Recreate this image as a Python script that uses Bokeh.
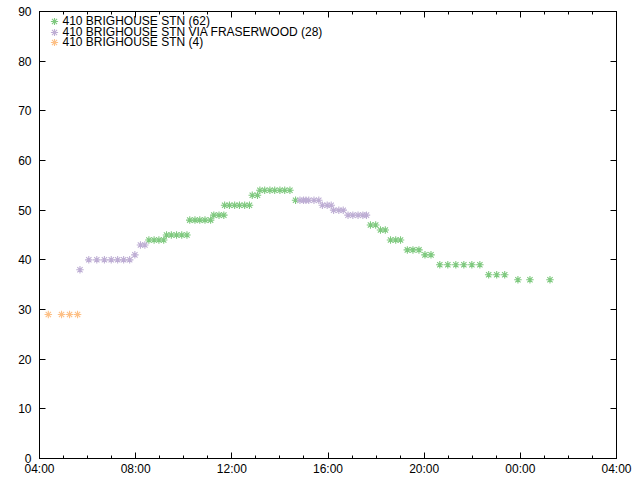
from datetime import datetime, timedelta
from bokeh.plotting import figure
from bokeh.models import (ColumnDataSource, DatetimeAxis, LinearAxis, FixedTicker,
                          DatetimeTickFormatter, Range1d, Legend, LegendItem,
                          CustomLabelingPolicy)
from bokeh.embed import file_html
from bokeh.resources import INLINE

# ---- data (time of day, value) ----
green_times = ["08:33", "08:46", "08:58", "09:10",
               "09:17", "09:29", "09:42", "09:55", "10:08",
               "10:15", "10:28", "10:40", "10:53", "11:07",
               "11:15", "11:28", "11:40",
               "11:42", "11:54", "12:07", "12:19", "12:32", "12:44",
               "12:51", "13:04",
               "13:10", "13:22", "13:35", "13:47", "14:00", "14:12", "14:25",
               "14:39",
               "17:46", "17:59",
               "18:11", "18:23",
               "18:36", "18:49", "19:01",
               "19:18", "19:32", "19:47",
               "20:02", "20:17",
               "20:39", "20:59", "21:19", "21:39", "21:59", "22:19",
               "22:41", "23:01", "23:21",
               "23:54", "00:24", "01:14"]
green_values = [44, 44, 44, 44,
                45, 45, 45, 45, 45,
                48, 48, 48, 48, 48,
                49, 49, 49,
                51, 51, 51, 51, 51, 51,
                53, 53,
                54, 54, 54, 54, 54, 54, 54,
                52,
                47, 47,
                46, 46,
                44, 44, 44,
                42, 42, 42,
                41, 41,
                39, 39, 39, 39, 39, 39,
                37, 37, 37,
                36, 36, 36]

purple_times = ["05:41",
                "06:03", "06:23", "06:42", "06:59", "07:15", "07:30", "07:45",
                "07:58",
                "08:12", "08:23",
                "14:50", "14:59", "15:05", "15:12", "15:25", "15:37",
                "15:46", "15:58", "16:08",
                "16:14", "16:27", "16:38",
                "16:50", "17:02", "17:15", "17:27", "17:36"]
purple_values = [38,
                 40, 40, 40, 40, 40, 40, 40,
                 41,
                 43, 43,
                 52, 52, 52, 52, 52, 52,
                 51, 51, 51,
                 50, 50, 50,
                 49, 49, 49, 49, 49]

orange_times = ["04:22", "04:55", "05:15", "05:35"]
orange_values = [29, 29, 29, 29]

series_labels = ["410 BRIGHOUSE STN (62)",
                 "410 BRIGHOUSE STN VIA FRASERWOOD (28)",
                 "410 BRIGHOUSE STN (4)"]
series_colors = ["#7fc97f", "#beaed4", "#fdc086"]

y_ticks = [0, 10, 20, 30, 40, 50, 60, 70, 80, 90]
x_tick_hours = [4, 8, 12, 16, 20, 24, 28]

BASE = datetime(2024, 1, 1)
EPOCH = datetime(1970, 1, 1)


def to_dt(t):
    h, m = map(int, t.split(":"))
    d = BASE + timedelta(hours=h, minutes=m)
    if h < 4:
        d += timedelta(days=1)
    return d


def ms(d):
    return (d - EPOCH).total_seconds() * 1000.0


FONT = "Liberation Sans"
FRAME_H = 447  # 480 - 11 (top) - 22 (bottom)

p = figure(width=640, height=480, x_axis_type="datetime",
           output_backend="svg", toolbar_location=None,
           min_border_left=39, min_border_right=24,
           min_border_top=11, min_border_bottom=22)
p.x_range = Range1d(BASE + timedelta(hours=4), BASE + timedelta(hours=28))
p.y_range = Range1d(0, 90)
p.xgrid.visible = False
p.ygrid.visible = False
p.outline_line_color = "black"
p.outline_line_width = 1
p.background_fill_color = "white"
p.border_fill_color = "white"

x_major = [ms(BASE + timedelta(hours=h)) for h in x_tick_hours]
x_minor = [ms(BASE + timedelta(hours=h)) for h in range(4, 29)]
xticker = FixedTicker(ticks=x_major, minor_ticks=x_minor)
yticker = FixedTicker(ticks=y_ticks, minor_ticks=[])
fmt = DatetimeTickFormatter(hours="%H:%M", hourmin="%H:%M", days="%H:%M",
                            minutes="%H:%M", minsec="%H:%M", context=None)
no_labels = CustomLabelingPolicy(code="""
    for (const i of indices) { indices.unset(i) }
    return indices
""")


def style_axis(ax, labels=True):
    ax.axis_line_color = "black"
    ax.major_tick_line_color = "black"
    ax.minor_tick_line_color = "black"
    ax.major_tick_in = 6
    ax.major_tick_out = 0
    ax.minor_tick_in = 3
    ax.minor_tick_out = 0
    ax.major_label_text_font = FONT
    ax.major_label_text_color = "black"
    ax.major_label_text_font_size = "12px"
    if not labels:
        ax.major_label_policy = no_labels
        ax.major_label_standoff = 0
        ax.major_label_text_font_size = "1px"


xa = p.xaxis[0]
xa.ticker = xticker
xa.formatter = fmt
style_axis(xa)
xa.major_label_standoff = 3

ya = p.yaxis[0]
ya.ticker = yticker
style_axis(ya)
ya.major_label_standoff = 8

top = DatetimeAxis(ticker=xticker, formatter=fmt)
style_axis(top, labels=False)
p.add_layout(top, "above")
right = LinearAxis(ticker=yticker)
style_axis(right, labels=False)
p.add_layout(right, "right")

series = [(green_times, green_values), (purple_times, purple_values),
          (orange_times, orange_values)]
for k, ((times, vals), lab, col) in enumerate(zip(series, series_labels, series_colors)):
    src = ColumnDataSource(dict(x=[to_dt(t) for t in times], y=vals))
    r = p.scatter("x", "y", source=src, marker="asterisk", size=7.5,
                  line_color=col, line_width=1.1)
    # one legend box per row, so rows can sit ~10.5px apart like the reference
    lg = Legend(items=[LegendItem(label=lab, renderers=[r])],
                location=(5.5, FRAME_H - 19 - 10.5 * k))
    lg.background_fill_alpha = 0
    lg.border_line_alpha = 0
    lg.margin = 0
    lg.padding = 0
    lg.spacing = 0
    lg.glyph_width = 18
    lg.glyph_height = 18
    lg.label_height = 11
    lg.label_standoff = 0
    lg.label_text_font = FONT
    lg.label_text_font_size = "12px"
    lg.label_text_color = "black"
    lg.label_text_baseline = "middle"
    p.add_layout(lg)

open("out.html", "w").write(file_html(p, INLINE))
